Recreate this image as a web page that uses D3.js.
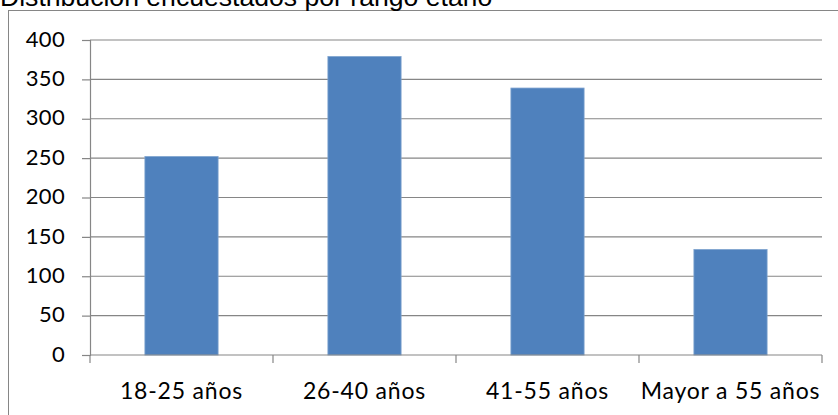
<!DOCTYPE html>
<html>
<head>
<meta charset="utf-8">
<script src="https://cdn.jsdelivr.net/npm/d3@7/dist/d3.min.js"></script>
<style>
  html, body { margin: 0; padding: 0; background: #fff; }
  svg { display: block; }
</style>
</head>
<body>
<svg id="chart" width="838" height="415"></svg>
<script>
// Encuestados por rango etario
const categories = ["18-25 años", "26-40 años", "41-55 años", "Mayor a 55 años"];
const values = [252, 379, 339, 134];
const yTicks = [0, 50, 100, 150, 200, 250, 300, 350, 400];
const title = "Distribución encuestados por rango etario";

const svg = d3.select("#chart");
const W = 838, H = 415;
const plot = { left: 90, right: 822, top: 40, bottom: 355 };
const gray = "#868686";
const labelFont = "Lato, 'Open Sans', sans-serif";

// chart frame
svg.append("rect")
  .attr("x", 8.5).attr("y", 10.5)
  .attr("width", W + 10).attr("height", H + 10)
  .attr("fill", "#fff").attr("stroke", gray).attr("stroke-width", 1);

// title
svg.append("text")
  .attr("x", 0).attr("y", 6)
  .attr("font-family", "'Liberation Sans', Arial, sans-serif")
  .attr("font-size", 26.6)
  .attr("fill", "#000")
  .text(title);

const x = d3.scaleBand().domain(categories)
  .range([plot.left, plot.right]).paddingInner(0.6).paddingOuter(0.3);
const xEdge = d3.scaleLinear().domain([0, categories.length]).range([plot.left, plot.right]);
const y = d3.scaleLinear().domain([0, 400]).range([plot.bottom, plot.top]);

// horizontal gridlines
svg.append("g").selectAll("line").data(yTicks.filter(d => d > 0)).join("line")
  .attr("x1", plot.left).attr("x2", plot.right)
  .attr("y1", d => y(d)).attr("y2", d => y(d))
  .attr("stroke", gray).attr("stroke-width", 1.2);

// y axis
const yAxis = d3.axisLeft(y).tickValues(yTicks).tickSize(8).tickPadding(17);
const gy = svg.append("g").attr("transform", `translate(${plot.left},0)`).call(yAxis);
gy.select(".domain").attr("stroke", gray).attr("stroke-width", 1.2);
gy.selectAll(".tick line").attr("stroke", gray).attr("stroke-width", 1.2);
gy.selectAll(".tick text")
  .attr("font-family", labelFont).attr("font-size", 22).attr("fill", "#000")
  .attr("letter-spacing", 0.3)
  .attr("dy", "0.28em");

// bars
svg.append("g").selectAll("rect").data(values).join("rect")
  .attr("x", (d, i) => x(categories[i]))
  .attr("width", x.bandwidth())
  .attr("y", d => y(d))
  .attr("height", d => y(0) - y(d))
  .attr("fill", "#4F81BD")
  .attr("stroke", "#7ea3cf").attr("stroke-width", 0.8);

// x axis line and category dividers
const gx = svg.append("g");
gx.append("line")
  .attr("x1", plot.left).attr("x2", plot.right)
  .attr("y1", y(0)).attr("y2", y(0))
  .attr("stroke", gray).attr("stroke-width", 1.2);
gx.selectAll("line.div").data(d3.range(categories.length + 1)).join("line")
  .attr("class", "div")
  .attr("x1", d => xEdge(d)).attr("x2", d => xEdge(d))
  .attr("y1", y(0)).attr("y2", y(0) + 8)
  .attr("stroke", gray).attr("stroke-width", 1.2);
gx.selectAll("text").data(categories).join("text")
  .attr("x", d => x(d) + x.bandwidth() / 2)
  .attr("y", 399)
  .attr("text-anchor", "middle")
  .attr("font-family", labelFont).attr("font-size", 23).attr("fill", "#000")
  .attr("letter-spacing", 0.8)
  .text(d => d);
</script>
</body>
</html>
